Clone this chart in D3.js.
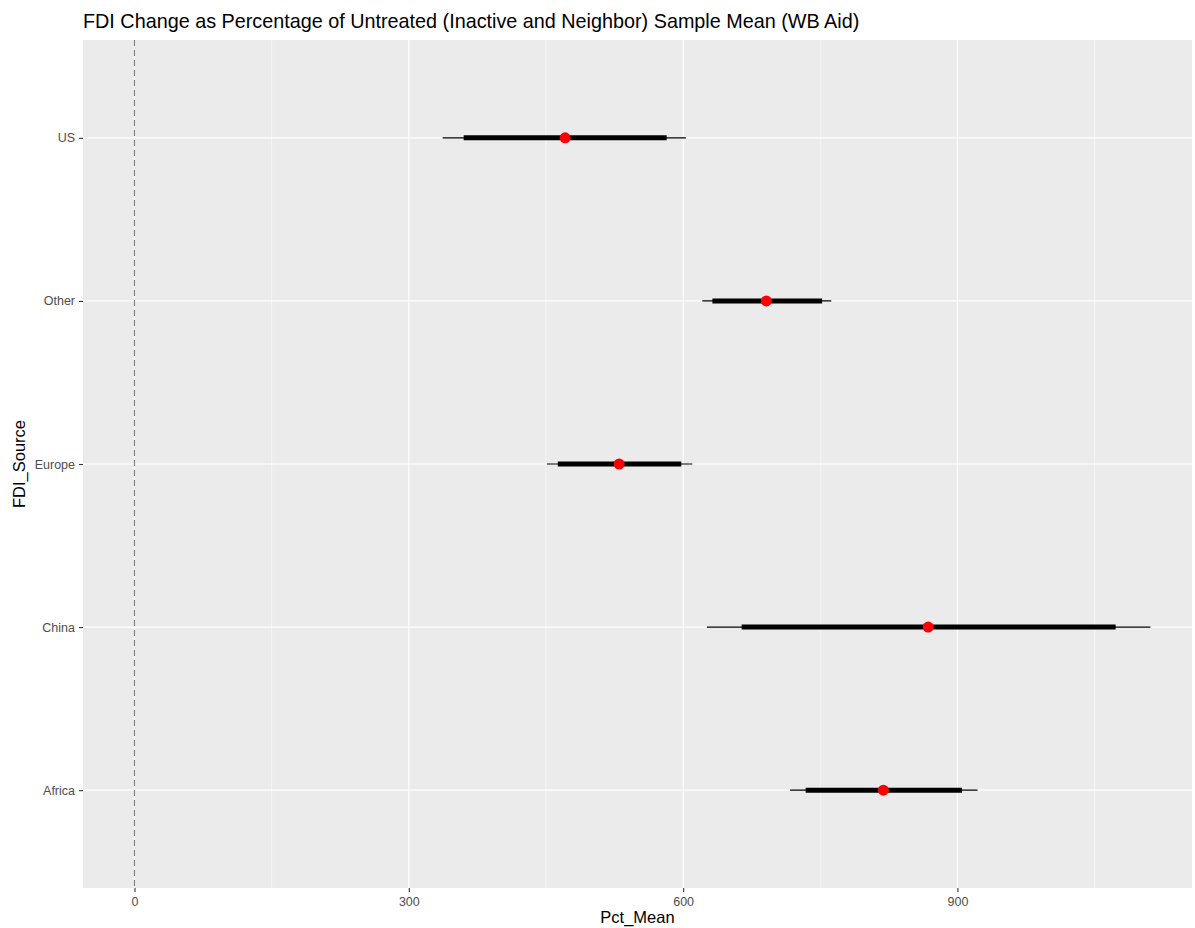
<!DOCTYPE html>
<html>
<head>
<meta charset="utf-8">
<script src="https://cdn.jsdelivr.net/npm/d3@7"></script>
<style>
  body { margin: 0; background: #fff; }
  text { font-family: "Liberation Sans", Arial, sans-serif; }
</style>
</head>
<body>
<div id="chart"></div>
<script>
// values
var sources  = ["US", "Other", "Europe", "China", "Africa"];
var pctMean  = [471, 691, 530, 868, 819];
var thickLo  = [360, 632, 463, 664, 734];
var thickHi  = [582, 752, 598, 1073, 905];
var thinLo   = [337, 621, 451, 626, 717];
var thinHi   = [603, 762, 610, 1111, 922];
var xTicks   = [0, 300, 600, 900];
var xMinor   = [150, 450, 750, 1050];

var width = 1195, height = 928;
// panel edges
var pLeft = 83, pRight = 1192, pTop = 40, pBottom = 888;

var svg = d3.select("#chart")
  .append("svg")
    .attr("width", width)
    .attr("height", height);

var x = d3.scaleLinear()
  .domain([-56.3, 1156.5])
  .range([pLeft, pRight]);

var y = d3.scalePoint()
  .domain(sources)
  .range([pTop, pBottom])
  .padding(0.6);

// panel
svg.append("rect")
  .attr("x", pLeft)
  .attr("y", pTop)
  .attr("width", pRight - pLeft)
  .attr("height", pBottom - pTop)
  .style("fill", "#EBEBEB");

// grid lines
svg.selectAll(".minor")
  .data(xMinor)
  .enter().append("line")
    .attr("x1", d => x(d)).attr("x2", d => x(d))
    .attr("y1", pTop).attr("y2", pBottom)
    .style("stroke", "#fff")
    .style("stroke-width", 0.55);

svg.selectAll(".major")
  .data(xTicks)
  .enter().append("line")
    .attr("x1", d => x(d)).attr("x2", d => x(d))
    .attr("y1", pTop).attr("y2", pBottom)
    .style("stroke", "#fff")
    .style("stroke-width", 1.1);

svg.selectAll(".hgrid")
  .data(sources)
  .enter().append("line")
    .attr("x1", pLeft).attr("x2", pRight)
    .attr("y1", d => y(d)).attr("y2", d => y(d))
    .style("stroke", "#fff")
    .style("stroke-width", 1.1);

// dashed zero line
svg.append("line")
  .attr("x1", x(0)).attr("x2", x(0))
  .attr("y1", pTop).attr("y2", pBottom)
  .style("stroke", "#7f7f7f")
  .style("stroke-width", 1.1)
  .style("stroke-dasharray", "6,4");

// intervals
svg.selectAll(".thin")
  .data(sources)
  .enter().append("line")
    .attr("x1", (d, i) => x(thinLo[i]))
    .attr("x2", (d, i) => x(thinHi[i]))
    .attr("y1", d => y(d)).attr("y2", d => y(d))
    .style("stroke", "#000")
    .style("stroke-width", 1.2);

svg.selectAll(".thick")
  .data(sources)
  .enter().append("line")
    .attr("x1", (d, i) => x(thickLo[i]))
    .attr("x2", (d, i) => x(thickHi[i]))
    .attr("y1", d => y(d)).attr("y2", d => y(d))
    .style("stroke", "#000")
    .style("stroke-width", 5);

svg.selectAll(".pt")
  .data(sources)
  .enter().append("circle")
    .attr("cx", (d, i) => x(pctMean[i]))
    .attr("cy", d => y(d))
    .attr("r", 5.5)
    .style("fill", "#FF0000");

// axes
var xAxis = svg.append("g")
  .attr("transform", "translate(0," + pBottom + ")")
  .call(d3.axisBottom(x).tickValues(xTicks).tickSize(4).tickPadding(5));

var yAxis = svg.append("g")
  .attr("transform", "translate(" + pLeft + ",0)")
  .call(d3.axisLeft(y).tickSize(4).tickPadding(4));

[xAxis, yAxis].forEach(function(a) {
  a.select(".domain").remove();
  a.selectAll("line").style("stroke", "#333").style("stroke-width", 1.1);
  a.selectAll("text")
    .style("fill", "#4D4D4D")
    .style("font-size", "12.5px")
    .style("font-family", "Liberation Sans, Arial, sans-serif");
});

// titles
svg.append("text")
  .attr("x", pLeft)
  .attr("y", 28)
  .attr("font-size", 19.8)
  .text("FDI Change as Percentage of Untreated (Inactive and Neighbor) Sample Mean (WB Aid)");

svg.append("text")
  .attr("x", (pLeft + pRight) / 2)
  .attr("y", 923)
  .attr("text-anchor", "middle")
  .attr("font-size", 16.5)
  .text("Pct_Mean");

svg.append("text")
  .attr("transform", "translate(25," + ((pTop + pBottom) / 2) + ") rotate(-90)")
  .attr("text-anchor", "middle")
  .attr("font-size", 16.5)
  .text("FDI_Source");
</script>
</body>
</html>
